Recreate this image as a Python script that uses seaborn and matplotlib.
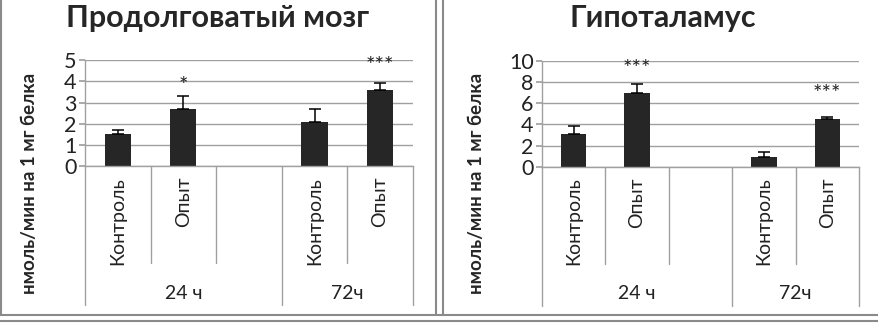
import numpy as np
import pandas as pd
import matplotlib
matplotlib.use("Agg")
import matplotlib.pyplot as plt
import matplotlib.transforms as mtransforms
from matplotlib.lines import Line2D
import seaborn as sns

# data
titles = ["Продолговатый мозг", "Гипоталамус"]
slots = ["К24", "О24", "gap", "К72", "О72"]
slot_labels = ["Контроль", "Опыт", "", "Контроль", "Опыт"]
bar_slots = ["К24", "О24", "К72", "О72"]
medulla_mean = [1.52, 2.68, 2.10, 3.60]
medulla_err = [0.19, 0.63, 0.58, 0.31]
hypo_mean = [3.10, 6.92, 0.90, 4.47]
hypo_err = [0.74, 0.85, 0.47, 0.26]
medulla_stars = ["", "*", "", "***"]
hypo_stars = ["", "***", "", "***"]
medulla_star_y = [0, 3.8, 0, 4.7]
hypo_star_y = [0, 9.2, 0, 6.9]
groups = ["24 ч", "72ч"]
group_spans = [(0, 2), (3, 4)]
ymax = [5, 10]
ystep = [1, 2]

sns.set_theme(style="white")
plt.rcParams["font.family"] = ["Lato", "DejaVu Sans"]

BAR = "#262626"
GRID = "#a0a0a0"
TXT = "#222222"

fig = plt.figure(figsize=(8.79, 3.25), dpi=100)
axes_pos = [[0.0967, 0.489, 0.373, 0.326], [0.6166, 0.487, 0.3606, 0.326]]
ylab_x = [-0.143, -0.18]
title_x = [0.247, 0.754]

panels = [
    (medulla_mean, medulla_err, medulla_stars, medulla_star_y),
    (hypo_mean, hypo_err, hypo_stars, hypo_star_y),
]

for i, (mean, err, stars, star_y) in enumerate(panels):
    ax = fig.add_axes(axes_pos[i])
    df = pd.DataFrame({"slot": bar_slots, "value": mean})
    sns.barplot(data=df, x="slot", y="value", order=slots, color=BAR,
                width=0.4, saturation=1, ax=ax, edgecolor=BAR, linewidth=0)
    xpos = [slots.index(s) for s in bar_slots]
    ax.errorbar(xpos, mean, yerr=[np.zeros(len(err)), err], fmt="none",
                ecolor="black", elinewidth=1.1, capsize=4, capthick=1.1)
    for x, s, y in zip(xpos, stars, star_y):
        if s:
            ax.text(x, y, s, ha="center", va="center", fontsize=16, color=TXT)

    ax.set_xlim(-0.5, len(slots) - 0.5)
    ax.set_ylim(0, ymax[i])
    ax.set_yticks(np.arange(0, ymax[i] + 0.1, ystep[i]))
    ax.yaxis.grid(True, color=GRID, linewidth=1)
    ax.set_axisbelow(True)
    ax.tick_params(axis="y", labelsize=15.5, length=4, color=GRID, pad=2,
                   left=True, labelcolor=TXT)
    ax.set_xticks([])
    ax.set_xlabel("")
    for sp in ["top", "right"]:
        ax.spines[sp].set_visible(False)
    for sp in ["left", "bottom"]:
        ax.spines[sp].set_color(GRID)
        ax.spines[sp].set_linewidth(1)

    ax.set_ylabel("нмоль/мин на 1 мг белка", fontsize=13.5, fontweight="bold")
    ax.yaxis.set_label_coords(ylab_x[i], -0.16)
    fig.text(title_x[i], 0.945, titles[i], fontsize=22, fontweight="bold",
             ha="center", va="center")

    trans = mtransforms.blended_transform_factory(ax.transData, ax.transAxes)
    # category labels
    for k, lab in enumerate(slot_labels):
        if lab:
            ax.text(k, -0.1, lab, rotation=90, ha="center", va="top",
                    fontsize=14, transform=trans, color=TXT)
    # separators
    group_edges = set()
    for a, b in group_spans:
        group_edges.add(a - 0.5)
        group_edges.add(b + 0.5)
    for k in range(len(slots) + 1):
        xb = k - 0.5
        low = -1.31 if xb in group_edges else -0.915
        ax.add_line(Line2D([xb, xb], [0, low], transform=trans, color=GRID,
                           linewidth=1, clip_on=False))
    for g, (a, b) in zip(groups, group_spans):
        ax.text((a + b) / 2, -1.2, g, ha="center", va="center", fontsize=14,
                transform=trans, color=TXT)

# panel frames
fc = "#8a8a8a"
fig.add_artist(Line2D([0.0015, 0.0015], [0.031, 1], color=fc, linewidth=1.5))
fig.add_artist(Line2D([0.496, 0.496], [0.031, 1], color=fc, linewidth=1.5))
fig.add_artist(Line2D([0.504, 0.504], [0.031, 1], color=fc, linewidth=1.5))
fig.add_artist(Line2D([0, 1], [0.031, 0.031], color=fc, linewidth=1.5))
fig.add_artist(Line2D([0, 1], [0.012, 0.012], color=fc, linewidth=1.5))

fig.savefig("out.png", dpi=100)
